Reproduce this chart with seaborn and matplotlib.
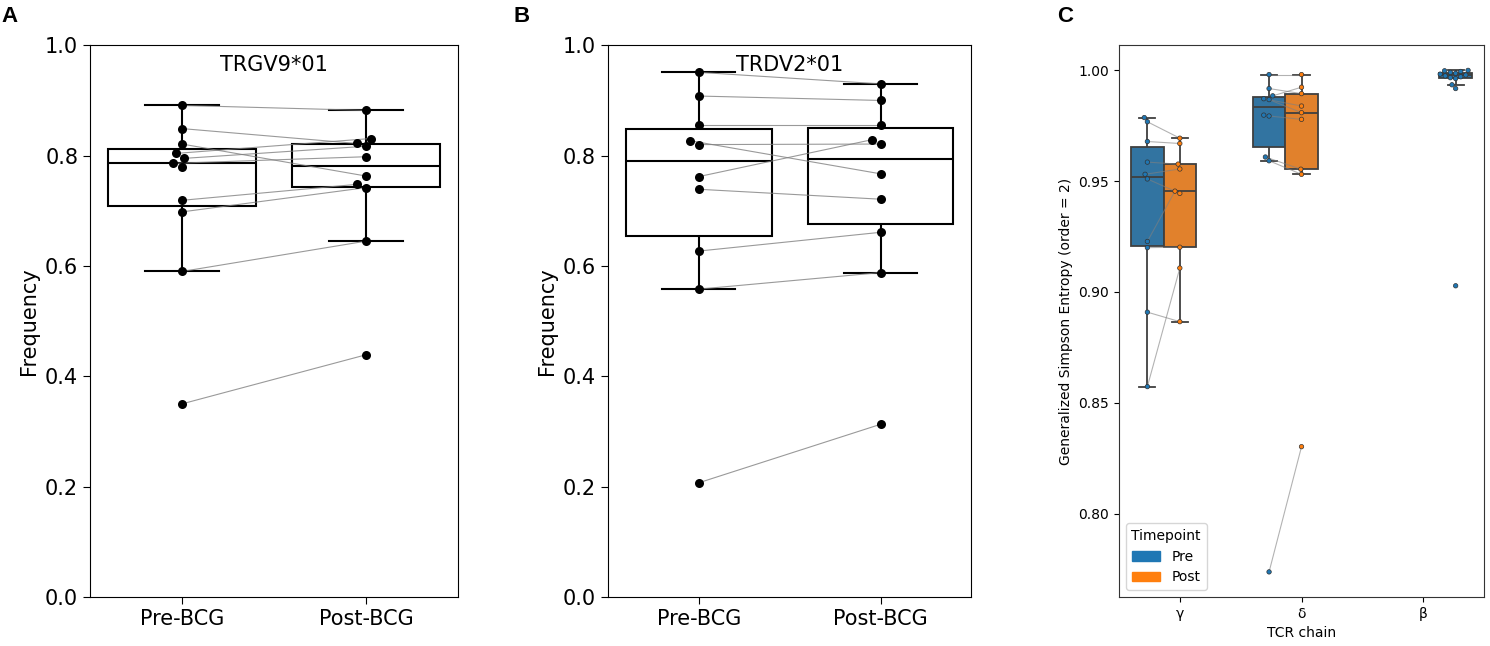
import numpy as np
import pandas as pd
import matplotlib
matplotlib.use('Agg')
import matplotlib.pyplot as plt
from matplotlib.patches import Patch
import seaborn as sns

# -------------------------------
# data (one entry per donor, nan = no paired sample)
# -------------------------------
timepoints = ['Pre-BCG', 'Post-BCG']

trgv9_pre = [0.891, 0.849, 0.821, 0.804, 0.795, 0.786, 0.779, 0.719, 0.698, 0.590, 0.350]
trgv9_post = [0.882, 0.822, 0.763, 0.831, 0.817, 0.798, np.nan, 0.748, 0.742, 0.645, 0.439]

trdv2_pre = [0.951, 0.908, 0.856, 0.827, 0.820, 0.762, 0.739, 0.627, 0.558, 0.207]
trdv2_post = [0.930, 0.900, 0.856, 0.767, 0.821, 0.829, 0.721, 0.661, 0.588, 0.313]

chains = ['γ', 'δ', 'β']
hue_levels = ['Pre', 'Post', 'Pre-β']
gamma_pre = [0.9787, 0.9768, 0.9679, 0.9586, 0.9531, 0.9510, 0.9228, 0.9200, 0.8909, 0.8573]
gamma_post = [np.nan, 0.9694, 0.9670, 0.9577, 0.9555, 0.9445, 0.9455, 0.9202, 0.8866, 0.9108]
delta_pre = [0.9981, 0.9918, 0.9885, 0.9872, 0.9868, 0.9798, 0.9794, 0.9609, 0.9592, 0.7737]
delta_post = [0.9981, 0.9895, 0.9924, 0.9839, 0.9809, np.nan, 0.9779, 0.9554, 0.9531, 0.8302]
beta_pre = [1.0000, 0.9998, 0.9995, 0.9991, 0.9987, 0.9983, 0.9979, 0.9975, 0.9971,
            0.9967, 0.9963, 0.9935, 0.9918, 0.9028]

blue, orange = '#1f77b4', '#ff7f0e'
palette = {'Pre': blue, 'Post': orange, 'Pre-β': blue}


def long_pair(pre, post):
    df = pd.DataFrame({'Pre-BCG': pre, 'Post-BCG': post})
    df['donor'] = range(len(df))
    return df.melt(id_vars='donor', var_name='time', value_name='freq').dropna()


def find_point(pts, x0, y0, tol):
    near = pts[np.abs(pts[:, 0] - x0) < tol]
    return near[np.argmin(np.abs(near[:, 1] - y0))]


def connect(ax, pairs, tol, lw, alpha):
    pts = np.vstack([c.get_offsets() for c in ax.collections if len(c.get_offsets())])
    for x0, y0, x1, y1 in pairs:
        if np.isnan(y0) or np.isnan(y1):
            continue
        p0 = find_point(pts, x0, y0, tol)
        p1 = find_point(pts, x1, y1, tol)
        ax.plot([p0[0], p1[0]], [p0[1], p1[1]], color='gray', lw=lw, alpha=alpha, zorder=2.5)


fig = plt.figure(figsize=(14.9, 6.46), dpi=100)
axA = fig.add_axes([0.0604, 0.0759, 0.247, 0.854])
axB = fig.add_axes([0.408, 0.0759, 0.244, 0.854])
axC = fig.add_axes([0.751, 0.0759, 0.245, 0.854])

# -------------------------------
# A / B: paired frequency plots
# -------------------------------
for ax, pre, post, title in [(axA, trgv9_pre, trgv9_post, 'TRGV9*01'),
                             (axB, trdv2_pre, trdv2_post, 'TRDV2*01')]:
    df = long_pair(pre, post)
    sns.boxplot(data=df, x='time', y='freq', order=timepoints, color='white',
                linecolor='black', linewidth=1.5, showfliers=False, width=0.8, ax=ax)
    sns.swarmplot(data=df, x='time', y='freq', order=timepoints, color='black',
                  size=6.5, ax=ax, zorder=3)
    ax.set_xlim(-0.5, 1.5)
    ax.set_ylim(0, 1.0)
    ax.set_xlabel('')
    ax.set_ylabel('Frequency', fontsize=15)
    ax.tick_params(labelsize=15, length=5)
    ax.text(0.5, 0.965, title, transform=ax.transAxes, ha='center', va='center', fontsize=15)

# -------------------------------
# C: Simpson entropy per chain
# -------------------------------
rows = []
for chain, tp, vals in [('γ', 'Pre', gamma_pre), ('γ', 'Post', gamma_post),
                        ('δ', 'Pre', delta_pre), ('δ', 'Post', delta_post),
                        ('β', 'Pre-β', beta_pre)]:
    for v in vals:
        if not np.isnan(v):
            rows.append((chain, tp, v))
dfC = pd.DataFrame(rows, columns=['chain', 'Timepoint', 'entropy'])

sns.boxplot(data=dfC, x='chain', y='entropy', hue='Timepoint', order=chains,
            hue_order=hue_levels, palette=palette, showfliers=False, width=0.8,
            linewidth=1.3, legend=False, ax=axC)
sns.swarmplot(data=dfC, x='chain', y='entropy', hue='Timepoint', order=chains,
              hue_order=hue_levels, palette=palette, dodge=True, size=3.2,
              edgecolor='#333333', linewidth=0.5, legend=False, ax=axC, zorder=3)
axC.set_xlim(-0.5, 2.5)
axC.set_xlabel('TCR chain', fontsize=10)
axC.set_ylabel('Generalized Simpson Entropy (order = 2)', fontsize=10)
axC.tick_params(labelsize=10)
for s in axC.spines.values():
    s.set_color('#333333')
axC.legend(handles=[Patch(color=blue, label='Pre'), Patch(color=orange, label='Post')],
           title='Timepoint', loc='lower left', fontsize=10, title_fontsize=10)

# connecting lines between paired samples (use swarm positions)
fig.canvas.draw()
for ax in (axA, axB, axC):
    ax.autoscale(False)
connect(axA, [(0, a, 1, b) for a, b in zip(trgv9_pre, trgv9_post)], 0.45, 0.8, 0.8)
connect(axB, [(0, a, 1, b) for a, b in zip(trdv2_pre, trdv2_post)], 0.45, 0.8, 0.8)
off = 0.8 / 3
pairsC = [(-off, a, 0, b) for a, b in zip(gamma_pre, gamma_post)]
pairsC += [(1 - off, a, 1, b) for a, b in zip(delta_pre, delta_post)]
connect(axC, pairsC, 0.13, 0.8, 0.6)

# panel letters
for x, lab in [(10, 'A'), (522, 'B'), (1065, 'C')]:
    fig.text(x / 1490, 1 - 16 / 646, lab, ha='center', va='center', fontsize=16,
             fontweight='bold', family='Liberation Sans')

fig.savefig('out.png', dpi=100)
